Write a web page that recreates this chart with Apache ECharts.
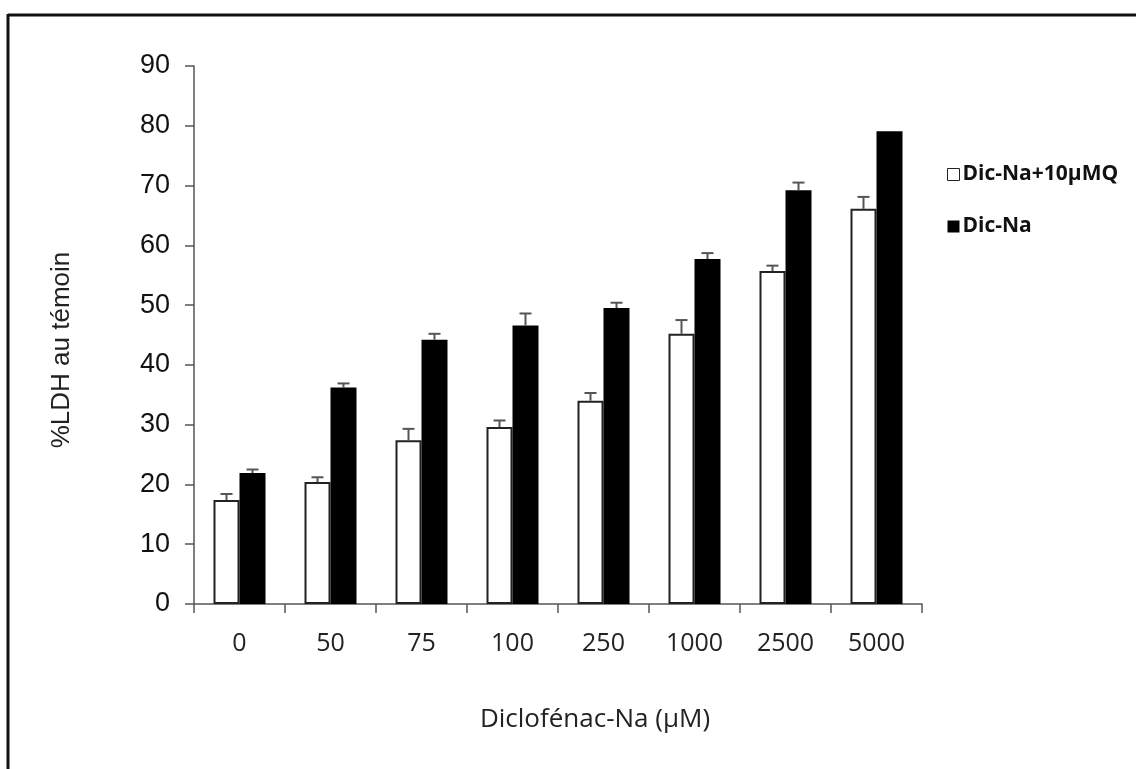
<!DOCTYPE html>
<html>
<head>
<meta charset="utf-8">
<script src="https://cdn.jsdelivr.net/npm/echarts@6/dist/echarts.min.js"></script>
<style>
  html, body { margin: 0; padding: 0; background: #fff; }
  #chart { width: 1136px; height: 769px; }
</style>
</head>
<body>
<div id="chart"></div>
<script>
// Diclofenac-Na concentrations (µM)
var categories = ['0', '50', '75', '100', '250', '1000', '2500', '5000'];

// %LDH relative to control, with Q (10 µM) co-treatment
var withQ = [17.4, 20.4, 27.4, 29.6, 34.0, 45.2, 55.7, 66.1];
var withQErr = [1.0, 0.8, 1.9, 1.1, 1.3, 2.3, 0.9, 2.0];

// %LDH relative to control, Dic-Na alone
var dicNa = [21.9, 36.2, 44.2, 46.6, 49.5, 57.7, 69.2, 79.1];
var dicNaErr = [0.6, 0.7, 1.0, 2.0, 0.9, 1.0, 1.3, 0];

var seriesNames = ['Dic-Na+10µMQ', 'Dic-Na'];
var yTicks = { min: 0, max: 90, interval: 10 };

var BAR_W = 26;

function errData(vals, errs, s) {
  return vals.map(function (v, i) { return [i, v, errs[i], s]; });
}

function renderErr(params, api) {
  var idx = api.value(0);
  var v = api.value(1);
  var e = api.value(2);
  var s = api.value(3);
  if (!e) return null;
  var base = api.coord([idx, v]);
  var top = api.coord([idx, v + e]);
  var x = base[0] + (s - 0.5) * BAR_W;
  var cap = 6;
  var style = { stroke: '#555', lineWidth: 2 };
  return {
    type: 'group',
    children: [
      { type: 'line', shape: { x1: x, y1: base[1], x2: x, y2: top[1] }, style: style },
      { type: 'line', shape: { x1: x - cap, y1: top[1], x2: x + cap, y2: top[1] }, style: style }
    ]
  };
}

var chart = echarts.init(document.getElementById('chart'), null, { renderer: 'canvas' });

chart.setOption({
  animation: false,
  backgroundColor: '#fff',
  grid: { left: 194, right: 214, top: 66, bottom: 165, containLabel: false },
  legend: {
    orient: 'vertical',
    left: 942,
    top: 159,
    itemWidth: 12,
    itemHeight: 12,
    itemGap: 31,
    selectedMode: false,
    data: [
      { name: seriesNames[0], icon: 'rect', itemStyle: { color: '#fff', borderColor: '#222', borderWidth: 1 } },
      { name: seriesNames[1], icon: 'rect', itemStyle: { color: '#000' } }
    ],
    textStyle: { fontFamily: 'Open Sans', fontWeight: 'bold', fontSize: 21, color: '#111', padding: [0, 0, 0, -2] }
  },
  xAxis: {
    type: 'category',
    data: categories,
    axisLine: { lineStyle: { color: '#555', width: 1.5 } },
    axisTick: { show: true, length: 9, lineStyle: { color: '#555', width: 1.5 } },
    axisLabel: { fontFamily: 'Open Sans', fontSize: 25, color: '#222', margin: 27 }
  },
  yAxis: {
    type: 'value',
    min: yTicks.min,
    max: yTicks.max,
    interval: yTicks.interval,
    splitLine: { show: false },
    axisLine: { show: true, lineStyle: { color: '#555', width: 1.5 } },
    axisTick: { show: true, length: 9, lineStyle: { color: '#555', width: 1.5 } },
    axisLabel: { fontFamily: 'Liberation Sans', fontSize: 27, color: '#111', margin: 24 }
  },
  series: [
    {
      name: seriesNames[0],
      type: 'bar',
      data: withQ,
      barWidth: BAR_W,
      barGap: '0%',
      itemStyle: { color: '#fff', borderColor: '#222', borderWidth: 2 }
    },
    {
      name: seriesNames[1],
      type: 'bar',
      data: dicNa,
      barWidth: BAR_W,
      barGap: '0%',
      itemStyle: { color: '#000', borderColor: '#000', borderWidth: 0 }
    },
    {
      type: 'custom',
      renderItem: renderErr,
      data: errData(withQ, withQErr, 0),
      encode: { x: 0, y: 1 },
      z: 5
    },
    {
      type: 'custom',
      renderItem: renderErr,
      data: errData(dicNa, dicNaErr, 1),
      encode: { x: 0, y: 1 },
      z: 5
    }
  ],
  graphic: [
    { type: 'line', shape: { x1: 8, y1: 15, x2: 1136, y2: 15 }, style: { stroke: '#111', lineWidth: 3 } },
    { type: 'line', shape: { x1: 8, y1: 14, x2: 8, y2: 769 }, style: { stroke: '#111', lineWidth: 3 } },
    {
      type: 'text',
      x: 595, y: 720,
      style: { text: 'Diclofénac-Na (µM)', fontFamily: 'Open Sans', fontSize: 26, fill: '#222', align: 'center', verticalAlign: 'middle' }
    },
    {
      type: 'text',
      x: 62, y: 350,
      rotation: Math.PI / 2,
      style: { text: '%LDH au témoin', fontFamily: 'Liberation Sans', fontSize: 26, fill: '#222', align: 'center', verticalAlign: 'middle' }
    }
  ]
});
</script>
</body>
</html>
